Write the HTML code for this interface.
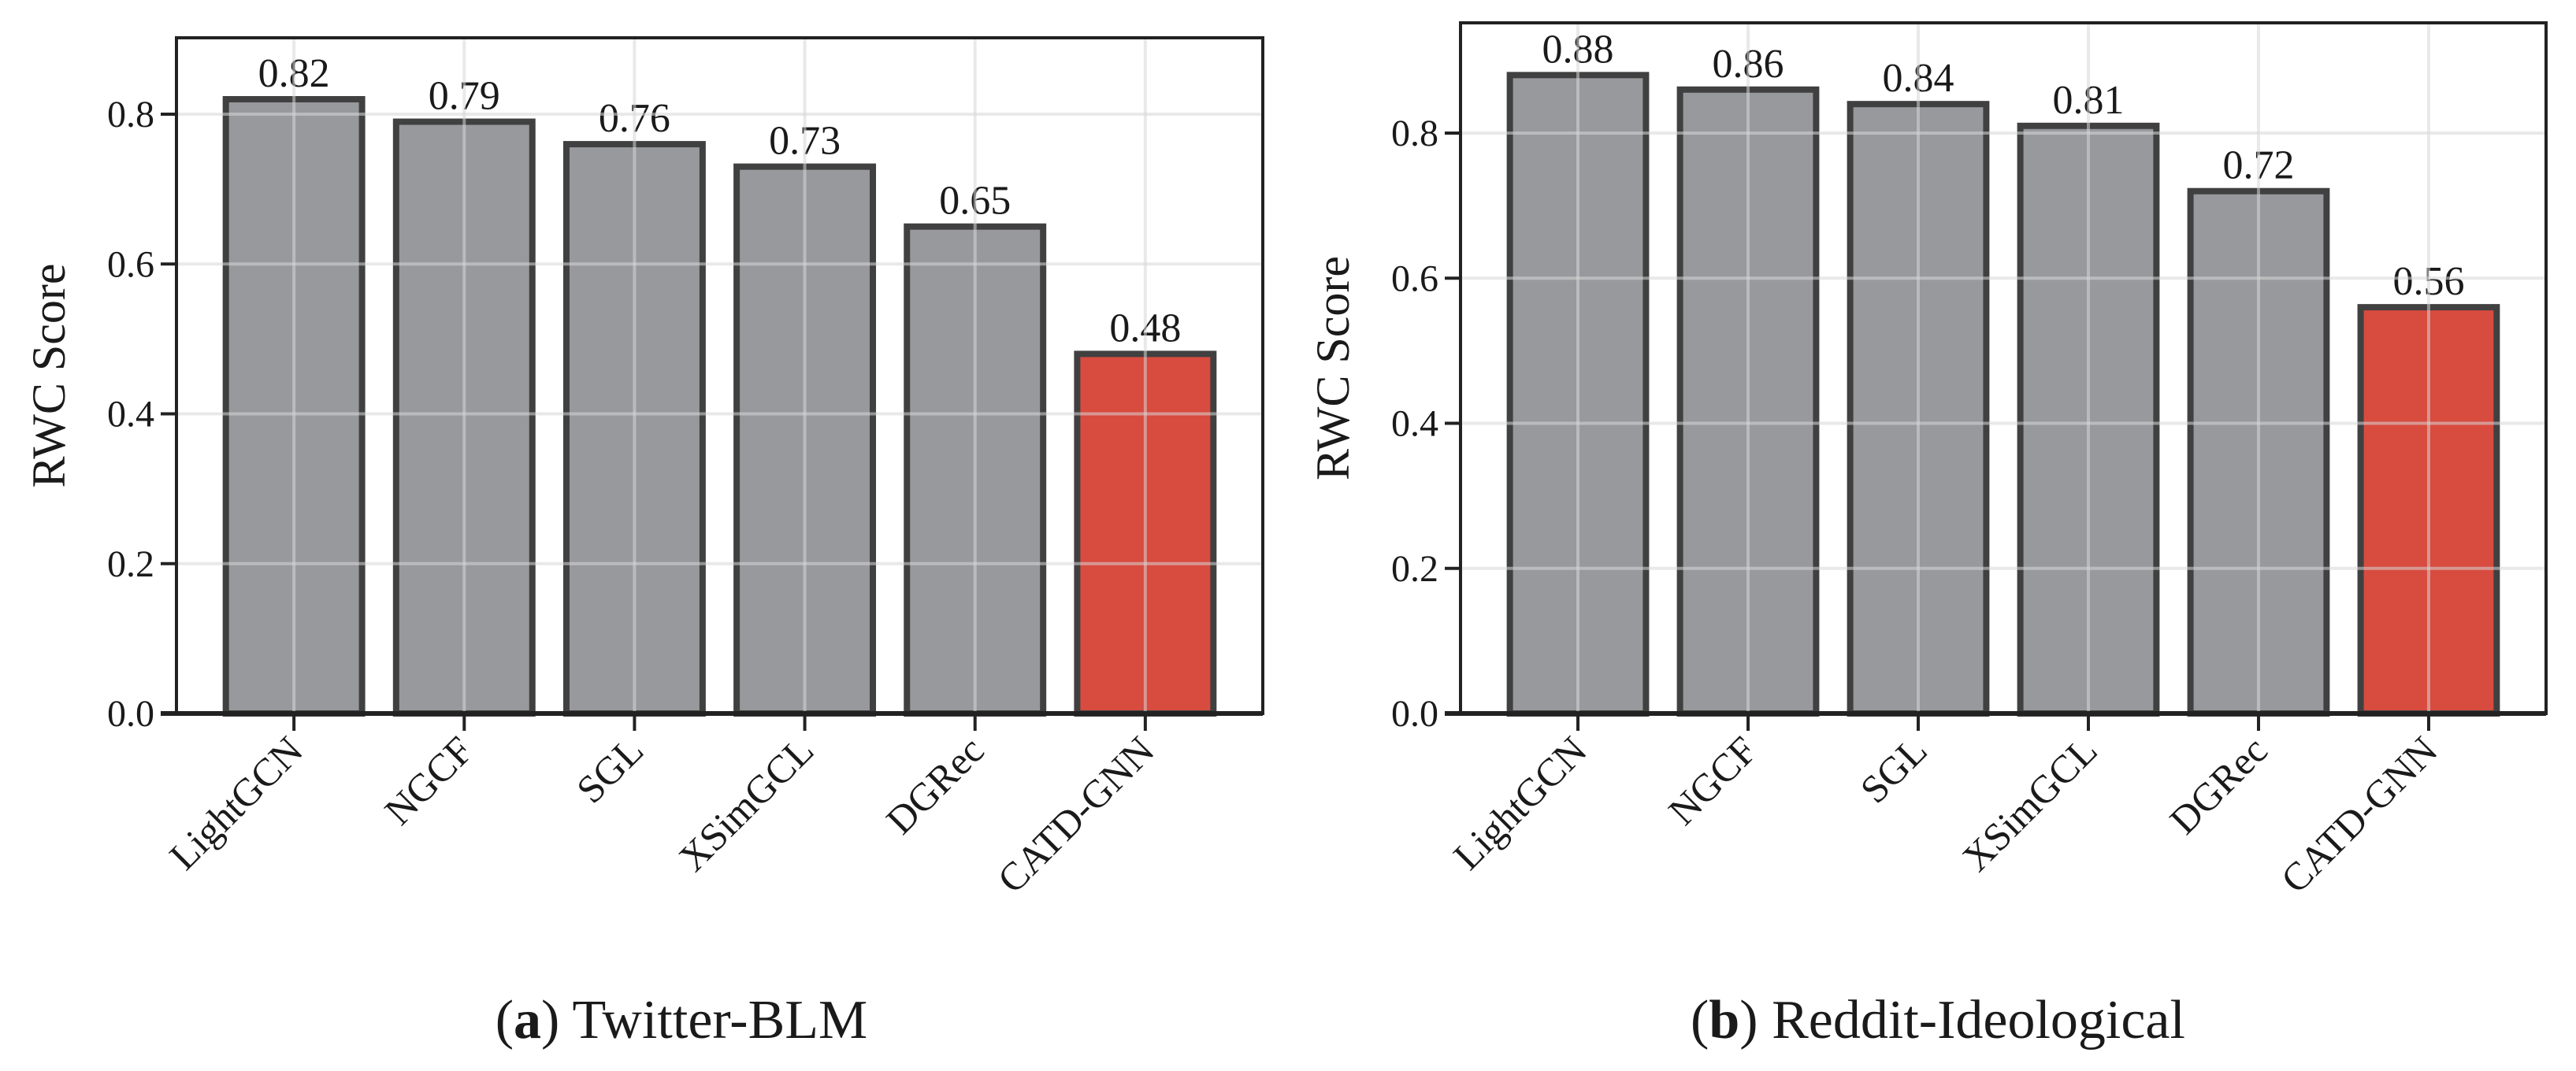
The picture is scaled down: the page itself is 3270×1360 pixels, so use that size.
<!DOCTYPE html>
<html><head><meta charset="utf-8"><style>
html,body{margin:0;padding:0;background:#fff;width:3270px;height:1360px;overflow:hidden}
svg text{font-family:"Liberation Serif",serif;fill:#1a1a1a}
</style></head><body>
<svg id="fig" width="3270" height="1360" viewBox="0 0 3270 1360" xmlns="http://www.w3.org/2000/svg"></svg>
<script>
const categories = ["LightGCN","NGCF","SGL","XSimGCL","DGRec","CATD-GNN"];
const valuesA = [0.82,0.79,0.76,0.73,0.65,0.48];
const valuesB = [0.88,0.86,0.84,0.81,0.72,0.56];
const yTicks = [0.0,0.2,0.4,0.6,0.8];
const yTickLabels = ["0.0","0.2","0.4","0.6","0.8"];
const captionA = ["a","Twitter-BLM"];
const captionB = ["b","Reddit-Ideological"];

const NS="http://www.w3.org/2000/svg";
const svg=document.getElementById('fig');
function mk(tag,attrs,parent){const e=document.createElementNS(NS,tag);for(const k in attrs)e.setAttribute(k,attrs[k]);(parent||svg).appendChild(e);return e;}

function panel(id,vals,L,R,T,B,ymax,cap,capX,ylabX){
  const g=mk('g',{});
  
  
  const n=categories.length;
  const xmin=-0.69,xmax=n-1+0.69;
  const x=i=>L+(i-xmin)/(xmax-xmin)*(R-L);
  const step=(R-L)/(xmax-xmin);
  const y=v=>B-(v/ymax)*(B-T);
  const bw=step*0.8;
  vals.forEach((v,i)=>{
    const r=mk('rect',{x:x(i)-bw/2,y:y(v),width:bw,height:B-y(v),fill:i===n-1?'#d84b3f':'#98999d',stroke:'#404040','stroke-width':8},g);
    
    
    const t=mk('text',{x:x(i),y:y(v)-16,'font-size':52,'text-anchor':'middle'},g);
    t.textContent=v.toFixed(2);
    
    
  });
  yTicks.forEach(v=>{mk('line',{x1:L,x2:R,y1:y(v),y2:y(v),stroke:'rgba(215,215,215,0.55)','stroke-width':4},g);});
  categories.forEach((c,i)=>{mk('line',{x1:x(i),x2:x(i),y1:T,y2:B,stroke:'rgba(215,215,215,0.55)','stroke-width':4},g);});
  mk('rect',{x:L,y:T,width:R-L,height:B-T,fill:'none',stroke:'#222','stroke-width':4},g);
  mk('line',{x1:L-20,x2:R,y1:B,y2:B,stroke:'#222','stroke-width':6},g);
  yTicks.forEach((v,i)=>{
    mk('line',{x1:L-20,x2:L,y1:y(v),y2:y(v),stroke:'#222','stroke-width':4},g);
    const t=mk('text',{x:L-28,y:y(v)+16,'font-size':48,'text-anchor':'end'},g);
    t.textContent=yTickLabels[i];
    
    
  });
  categories.forEach((c,i)=>{
    mk('line',{x1:x(i),x2:x(i),y1:B,y2:B+22,stroke:'#222','stroke-width':4},g);
    const t=mk('text',{x:x(i)+14,y:B+50,'font-size':50,'text-anchor':'end',transform:`rotate(-45 ${x(i)+14} ${B+50})`},g);
    t.textContent=c;
    
    
  });
  const yl=mk('text',{x:ylabX,y:(T+B)/2,'font-size':60,'text-anchor':'middle',transform:`rotate(-90 ${ylabX} ${(T+B)/2})`},g);
  yl.textContent='RWC Score';
  
  
  const ct=mk('text',{x:capX,y:1318,'font-size':70,'text-anchor':'middle'},g);
  
  
  ct.innerHTML='(<tspan font-weight="bold">'+cap[0]+'</tspan>) '+cap[1];
}
panel('panel-twitter-blm',valuesA,224,1603,48,906,0.902,captionA,865,82);
panel('panel-reddit-ideological',valuesB,1854,3232,29,906,0.952,captionB,2460,1712);
</script>
</body></html>
